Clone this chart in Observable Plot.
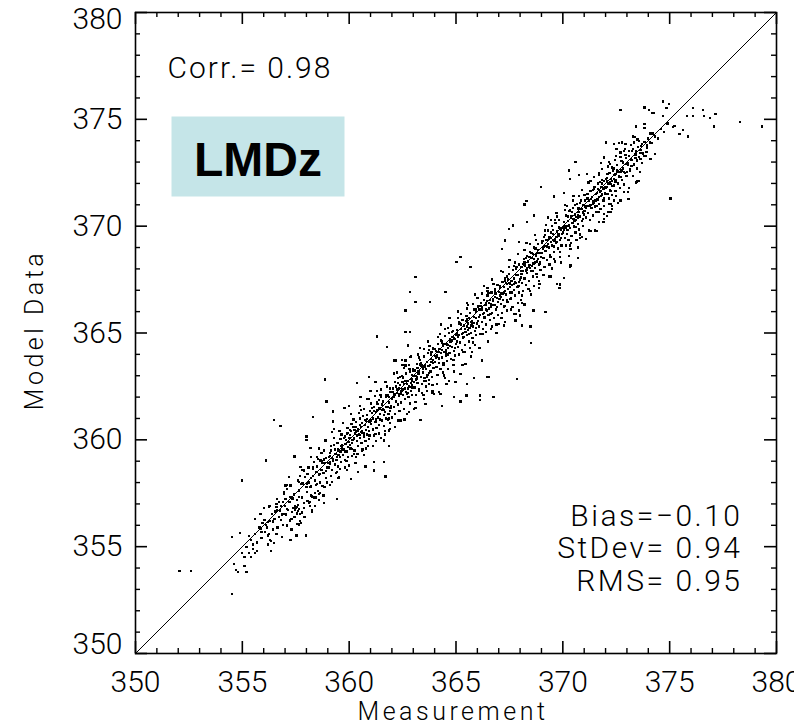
<!DOCTYPE html>
<html><head><meta charset="utf-8">
<script src="https://cdn.jsdelivr.net/npm/d3@7"></script>
<script src="https://cdn.jsdelivr.net/npm/@observablehq/plot@0.6"></script>
<style>
html,body{margin:0;padding:0;background:#fff;overflow:hidden;}
svg text{font-weight:300;}
</style></head><body><div id="chart"></div>
<script>
const band1 = [
[354.5,355.45],[354.9,355.65],[354.6,354.2],[354.7,353.9],[354.8,353.8],[355.0,354.7],[355.1,354.1],[355.2,353.8],[355.3,354.7],[355.4,354.5],[355.6,354.7],[355.1,354.5],
[355.2,355.0],[355.4,355.3],[355.5,355.1],[355.6,355.6],[355.7,355.2],[355.8,355.9],[355.9,355.4],[355.5,354.9],[355.7,354.8],[355.9,355.7],[355.3,355.5],
[355.85,356.53],[356.04,356.25],[356.24,356.88],[356.4,356.53],[356.6,357.0],[356.2,355.52],[356.35,355.26],[356.2,355.1],[356.47,355.16],[356.35,354.79],[355.88,355.83],[356.86,355.44],[357.25,355.32],[357.53,355.52],[357.98,355.52],
[356.76,356.69],[356.94,356.53],[357.1,356.77],[357.33,356.61],[357.57,356.85],[357.69,356.53],[357.44,356.38],[357.22,356.22],[357.1,355.99],[357.57,356.07],[357.75,356.1],[358.11,357.03],[358.27,356.61],[358.35,357.3],[358.03,357.55],[358.19,357.78],[358.5,357.94],[357.1,357.7],[357.25,357.86],[356.94,357.55],[357.41,357.47],[357.64,357.63],
[357.48,356.72],[357.52,356.8],[357.6,356.66],[357.46,356.9],[357.62,356.95],[357.55,356.55],[357.4,356.8],[357.66,356.78],
[356.5,356.3],[356.7,356.4],[356.8,356.9],[356.1,356.0],[355.95,356.1],[356.3,356.2],[356.9,357.1],[357.0,356.9],[357.2,357.1],[357.35,357.25],[357.8,357.3],[357.9,357.05],[358.0,357.8],[358.1,358.0],[357.85,357.95],[357.95,358.25],[358.2,358.2],[358.3,358.3],[358.4,358.1],[358.45,358.5],[358.6,358.35],[358.65,358.0],[358.7,358.6],[358.8,358.45],[358.85,358.9],[358.9,358.2],[358.95,358.7],[358.55,357.6],[358.75,357.85],[358.4,357.5],[358.6,357.2],[358.25,357.35],[358.15,356.9],[358.9,359.15],[358.7,359.0],[358.5,358.75],[358.3,358.7],[358.05,358.4],[357.75,357.95],[357.6,358.1],[358.35,358.95],[358.55,359.1],[358.95,358.0],
[357.02,357.86],[356.94,357.47],[357.25,357.31],[356.63,357.24],[357.64,358.02],[357.18,358.25],[357.88,358.56],[357.72,358.72],[358.31,358.64],[358.5,358.49],[358.27,356.69],[358.16,357.08],[357.95,356.38],[357.64,356.04],[358.81,357.03],[358.58,357.47],[358.0,360.15],[358.0,359.99],[358.19,359.61],[357.44,359.22],[358.89,359.97],[358.81,359.5],[358.66,359.03],
[356.6,356.85],[356.75,356.7],[356.55,356.65],[356.05,355.7],[356.15,355.9],[356.25,355.6],[356.45,355.8],[356.65,355.9],[356.85,356.5],[356.3,356.9],[356.7,357.1],[357.05,356.5],[357.15,356.7],[357.3,356.3],[357.7,356.2],[357.8,356.6],[357.9,356.8],[358.2,357.8],[358.45,357.3],[358.65,357.5],[358.85,357.8],[358.75,358.9],[358.1,358.7],[358.5,359.2],[358.7,359.4]
];
const band2 = [
[359.03,358.7],[359.07,359.2],[359.12,358.95],[359.16,359.5],[359.21,358.6],[359.24,359.1],[359.28,359.75],[359.33,358.85],[359.36,359.35],[359.41,359.05],[359.45,359.85],[359.49,358.75],[359.52,359.5],[359.56,359.2],[359.6,360.05],[359.63,358.95],[359.68,359.6],[359.71,359.3],[359.75,360.1],[359.79,359.05],[359.83,359.8],[359.87,359.45],[359.9,360.3],[359.94,359.2],[359.97,359.9],[359.15,358.3],[359.38,358.45],[359.58,358.65],[359.81,358.7],[359.3,360.1],[359.55,360.4],[359.92,360.55],[359.47,359.55],[359.66,359.75],[359.85,360.0],[359.1,359.25],[359.25,359.0],[359.5,359.3],[359.73,359.55],[359.96,359.65],
[360.02,360.1],[360.06,359.6],[360.09,360.4],[360.14,359.85],[360.17,360.6],[360.21,360.05],[360.25,359.5],[360.28,360.3],[360.32,360.85],[360.36,359.95],[360.4,360.5],[360.43,359.7],[360.47,360.25],[360.5,361.0],[360.54,360.6],[360.58,359.85],[360.61,360.4],[360.65,361.1],[360.69,360.15],[360.73,360.7],[360.76,359.95],[360.8,360.45],[360.84,361.15],[360.88,360.6],[360.92,360.05],[360.95,360.85],[360.98,361.35],[360.12,359.25],[360.39,359.35],[360.63,359.55],[360.87,359.7],[360.2,360.95],[360.45,361.25],[360.7,361.45],[360.04,360.45],[360.3,360.6],[360.56,360.35],[360.78,360.9],[360.93,360.4],[360.35,360.2],[360.6,360.8],[360.82,360.25],[360.16,360.0],[360.52,360.1],
[361.03,360.75],[361.06,361.25],[361.1,360.45],[361.13,361.0],[361.17,361.55],[361.2,360.85],[361.24,361.3],[361.28,360.55],[361.31,361.75],[361.35,361.05],[361.39,360.7],[361.42,361.5],[361.46,361.2],[361.49,362.0],[361.53,360.9],[361.57,361.4],[361.6,361.8],[361.64,360.65],[361.68,361.3],[361.71,361.0],[361.75,362.1],[361.79,361.55],[361.82,360.95],[361.86,361.75],[361.9,361.35],[361.93,362.25],[361.97,361.6],[361.15,360.2],[361.4,360.3],[361.66,360.4],[361.92,360.8],[361.22,362.05],[361.5,362.35],[361.78,362.5],[361.08,361.5],[361.33,361.4],[361.55,361.65],[361.73,361.55],[361.88,362.0],[361.44,360.95],[361.62,361.15],[361.26,360.95],[361.84,361.2],[361.99,361.05],
[362.02,361.9],[362.05,362.4],[362.09,361.55],[362.12,362.15],[362.16,362.7],[362.2,361.8],[362.23,362.35],[362.27,361.65],[362.3,362.9],[362.34,362.05],[362.38,362.55],[362.41,361.75],[362.45,362.3],[362.48,363.0],[362.52,362.1],[362.56,362.6],[362.6,361.9],[362.63,362.4],[362.67,363.1],[362.7,362.15],[362.74,362.75],[362.78,362.0],[362.81,362.5],[362.85,363.2],[362.89,362.3],[362.92,362.85],[362.96,362.45],[362.99,363.3],[362.14,361.2],[362.36,361.35],[362.58,361.45],[362.83,361.7],[362.25,363.15],[362.55,363.35],[362.8,363.5],[362.07,362.0],[362.32,362.4],[362.5,362.35],[362.69,362.6],[362.9,362.65],[362.43,362.2],[362.65,362.25],[362.18,362.5],[362.95,362.1],
[363.02,362.7],[363.06,363.25],[363.09,362.45],[363.13,363.0],[363.16,363.55],[363.2,362.65],[363.24,363.2],[363.27,362.35],[363.31,363.75],[363.35,362.95],[363.38,363.45],[363.42,362.6],[363.45,363.15],[363.49,363.9],[363.53,362.9],[363.56,363.4],[363.6,362.5],[363.63,363.65],[363.67,363.05],[363.7,364.05],[363.74,362.8],[363.78,363.5],[363.81,363.2],[363.85,364.1],[363.88,362.95],[363.92,363.6],[363.95,363.35],[363.99,364.25],[363.12,362.1],[363.4,362.2],[363.65,362.3],[363.9,362.55],[363.22,364.0],[363.5,364.25],[363.76,364.4],[363.04,363.0],[363.28,363.1],[363.47,363.3],[363.71,363.45],[363.94,363.75],[363.36,363.6],[363.58,362.75],[363.83,363.8],[363.19,362.85],
[359.23,361.32],[359.23,360.86],[360.37,362.65],[360.0,361.6],[359.78,361.5],[359.72,360.78],[362.48,363.74],[362.12,363.71],[362.64,363.48],[362.87,363.87],[363.26,362.31],[362.79,361.29],[362.4,360.9],[364.2,362.23],[363.88,362.18],[364.55,362.62],[364.43,363.01],[363.73,362.62],[363.49,362.77],[363.18,362.93],[362.95,362.54],[361.0,362.3],[360.92,362.93],[361.23,362.7],[360.53,361.99],[360.84,361.92],[361.86,360.44],[361.62,359.97],[361.23,360.28],[360.61,359.5],[360.22,359.34],[359.98,358.8],[359.09,358.88],[359.2,360.36],[362.17,363.71],[362.64,363.71]
];
const band3 = [
[364.02,363.65],[364.05,364.15],[364.09,363.4],[364.12,363.9],[364.16,364.5],[364.2,363.6],[364.23,364.25],[364.27,363.3],[364.3,364.65],[364.34,363.85],[364.38,364.4],[364.41,363.5],[364.45,364.1],[364.48,364.85],[364.52,363.95],[364.56,364.5],[364.59,363.7],[364.63,364.3],[364.67,365.0],[364.7,364.05],[364.74,364.6],[364.78,363.8],[364.81,364.35],[364.85,365.1],[364.89,364.15],[364.92,364.75],[364.96,363.95],[364.99,364.5],[364.14,363.05],[364.4,363.15],[364.64,363.3],[364.88,363.5],[364.24,364.95],[364.5,365.2],[364.77,365.35],[364.07,363.85],[364.31,364.05],[364.54,364.2],[364.72,364.4],[364.94,364.3],[364.36,364.55],[364.6,364.0],[364.83,364.8],[364.18,364.1],
[365.03,364.6],[365.06,365.15],[365.1,364.35],[365.13,364.9],[365.17,365.45],[365.2,364.55],[365.24,365.2],[365.27,364.2],[365.31,365.6],[365.35,364.8],[365.38,365.35],[365.42,364.45],[365.45,365.05],[365.49,365.8],[365.52,364.9],[365.56,365.45],[365.6,364.6],[365.63,365.25],[365.67,365.95],[365.7,365.0],[365.74,365.55],[365.77,364.75],[365.81,365.3],[365.85,366.1],[365.88,365.1],[365.92,365.7],[365.95,364.9],[365.99,365.45],[365.15,364.0],[365.4,364.1],[365.65,364.3],[365.9,364.45],[365.22,365.9],[365.5,366.15],[365.78,366.35],[365.08,364.8],[365.33,365.0],[365.55,365.15],[365.72,365.35],[365.94,365.25],[365.46,365.55],[365.61,364.95],[365.83,365.75],[365.28,364.95],
[366.02,365.55],[366.06,366.1],[366.09,365.3],[366.13,365.85],[366.16,366.4],[366.2,365.5],[366.23,366.15],[366.27,365.2],[366.31,366.55],[366.34,365.75],[366.38,366.3],[366.41,365.4],[366.45,366.05],[366.48,366.75],[366.52,365.85],[366.56,366.4],[366.59,365.6],[366.63,366.2],[366.66,366.9],[366.7,365.95],[366.73,366.5],[366.77,365.7],[366.8,366.3],[366.84,367.05],[366.88,366.1],[366.91,366.65],[366.95,365.85],[366.98,366.45],[366.14,364.95],[366.39,365.05],[366.64,365.2],[366.9,365.4],[366.21,366.85],[366.47,367.1],[366.75,367.3],[366.07,365.75],[366.3,365.95],[366.54,366.15],[366.71,366.3],[366.93,366.2],[366.44,366.5],[366.61,365.9],[366.82,366.7],[366.26,365.9],
[367.03,366.6],[367.06,367.1],[367.1,366.35],[367.13,366.85],[367.17,367.4],[367.2,366.55],[367.24,367.15],[367.27,366.25],[367.31,367.55],[367.34,366.8],[367.38,367.3],[367.41,366.45],[367.45,367.05],[367.48,367.75],[367.52,366.9],[367.56,367.45],[367.59,366.65],[367.63,367.25],[367.66,367.95],[367.7,367.0],[367.73,367.55],[367.77,366.75],[367.8,367.35],[367.84,368.1],[367.88,367.15],[367.91,367.7],[367.95,366.9],[367.98,367.5],[367.14,365.95],[367.39,366.05],[367.64,366.2],[367.9,366.4],[367.21,367.85],[367.47,368.1],[367.75,368.3],[367.07,366.75],[367.3,366.95],[367.54,367.15],[367.71,367.3],[367.93,367.2],[367.44,367.5],[367.61,366.9],[367.82,367.7],[367.26,366.9],
[368.03,367.6],[368.06,368.1],[368.1,367.35],[368.13,367.9],[368.17,368.45],[368.2,367.55],[368.24,368.15],[368.27,367.25],[368.31,368.6],[368.34,367.8],[368.38,368.35],[368.41,367.45],[368.45,368.05],[368.48,368.8],[368.52,367.9],[368.56,368.5],[368.59,367.65],[368.63,368.25],[368.66,369.0],[368.7,368.05],[368.73,368.6],[368.77,367.75],[368.8,368.35],[368.84,369.15],[368.88,368.2],[368.91,368.75],[368.95,367.95],[368.98,368.55],[368.14,366.95],[368.39,367.05],[368.64,367.2],[368.9,367.45],[368.21,368.9],[368.47,369.15],[368.75,369.35],[368.07,367.75],[368.3,367.95],[368.54,368.15],[368.71,368.3],[368.93,368.25],[368.44,368.55],[368.61,367.9],[368.82,368.75],[368.26,367.9],
[365.76,364.1],[366.22,363.71],[365.44,363.55],[365.21,363.09],[364.98,362.7],[364.66,362.77],[367.94,366.05],[367.78,365.58],[368.1,365.35],[367.24,365.35],[367.0,365.43],[368.87,367.3],[368.8,367.61],[368.17,366.36],[367.39,366.55],[368.64,370.5],[368.33,370.18],[367.94,369.25],[367.31,369.33],[367.16,368.94],[368.1,366.75],[368.2,366.33],[367.78,365.89],[367.98,365.82],[367.55,366.6],[367.24,366.21],[368.64,366.05],[368.48,365.3],[368.61,366.05],[368.49,365.3],[368.52,364.54]
];
const band4 = [
[369.02,368.75],[369.05,369.3],[369.09,368.5],[369.12,369.05],[369.16,369.6],[369.19,368.85],[369.23,369.35],[369.27,368.4],[369.3,369.8],[369.34,369.0],[369.37,369.5],[369.41,368.65],[369.44,369.25],[369.48,370.0],[369.51,369.1],[369.55,369.65],[369.58,368.8],[369.62,369.4],[369.66,370.15],[369.69,369.2],[369.73,369.75],[369.76,368.95],[369.8,369.55],[369.83,370.3],[369.87,369.35],[369.9,369.85],[369.94,369.1],[369.97,369.65],[369.14,368.1],[369.38,368.2],[369.63,368.35],[369.88,368.55],[369.2,370.05],[369.46,370.3],[369.72,370.45],[369.07,368.95],[369.29,369.15],[369.53,369.35],[369.7,369.5],[369.92,369.45],[369.43,369.7],[369.6,369.05],[369.81,369.9],[369.25,369.05],
[370.02,369.7],[370.06,370.2],[370.09,369.45],[370.13,370.0],[370.16,370.5],[370.2,369.65],[370.23,370.25],[370.27,369.35],[370.31,370.7],[370.34,369.9],[370.38,370.4],[370.41,369.55],[370.45,370.15],[370.48,370.85],[370.52,370.0],[370.56,370.55],[370.59,369.7],[370.63,370.3],[370.66,371.05],[370.7,370.1],[370.73,370.65],[370.77,369.85],[370.8,370.45],[370.84,371.2],[370.88,370.25],[370.91,370.8],[370.95,370.0],[370.98,370.55],[370.14,369.1],[370.39,369.2],[370.64,369.35],[370.9,369.5],[370.21,370.95],[370.47,371.2],[370.75,371.4],[370.07,369.85],[370.3,370.05],[370.54,370.25],[370.71,370.4],[370.93,370.35],[370.44,370.65],[370.61,369.95],[370.82,370.8],[370.26,370.0],
[371.02,370.7],[371.05,371.2],[371.09,370.4],[371.12,370.95],[371.16,371.5],[371.19,370.6],[371.23,371.2],[371.27,370.3],[371.3,371.65],[371.34,370.85],[371.37,371.35],[371.41,370.5],[371.44,371.1],[371.48,371.85],[371.51,370.95],[371.55,371.5],[371.58,370.65],[371.62,371.25],[371.66,372.0],[371.69,371.05],[371.73,371.6],[371.76,370.8],[371.8,371.4],[371.83,372.15],[371.87,371.2],[371.9,371.75],[371.94,370.95],[371.97,371.55],[371.2,372.05],[371.45,372.3],[371.7,372.4],[371.07,370.85],[371.29,371.0],[371.53,371.2],[371.7,371.35],[371.92,371.3],[371.4,371.7],[371.6,370.95],[371.81,371.85],[371.25,370.95],
[372.03,371.8],[372.07,372.25],[372.1,371.5],[372.14,372.0],[372.18,372.5],[372.22,371.7],[372.26,372.2],[372.3,371.45],[372.34,372.6],[372.38,371.9],[372.42,372.4],[372.46,371.65],[372.5,372.15],[372.54,372.85],[372.58,372.0],[372.62,372.55],[372.66,371.8],[372.7,372.3],[372.74,373.05],[372.78,372.15],[372.82,372.7],[372.86,371.95],[372.9,372.5],[372.94,373.2],[372.98,372.35],[372.2,372.9],[372.45,373.1],[372.7,373.25],[372.15,371.3],[372.5,371.4],[372.85,371.6],
[373.05,372.85],[373.1,373.3],[373.16,372.6],[373.22,373.1],[373.28,373.6],[373.34,372.85],[373.4,373.35],[373.46,372.7],[373.52,373.7],[373.58,373.25],[373.64,373.55],[373.7,372.95],[373.76,373.4],[373.82,373.95],[373.88,373.3],[373.94,373.65],[373.98,374.1],[373.3,372.35],[373.6,372.55],[373.2,373.8],[373.5,374.05],
[374.15,373.9],[374.3,374.2],[374.45,374.1],[374.6,374.55],[374.75,374.4],[374.9,374.8],
[370.7,368.52],[370.33,368.11],[370.04,367.58],[369.86,367.27],[369.86,367.11],[369.19,365.97],[369.34,367.64],[369.5,368.05],[369.58,368.45],[371.29,369.79],[371.6,369.76],[370.82,369.61],[370.36,368.94],[372.23,371.04],[371.92,370.57],[371.68,370.65],[372.38,371.2],[372.46,372.06],[372.1,372.76],[371.79,372.95],[369.58,371.39],[370.04,371.54],[370.33,372.21],[370.28,372.6],[370.75,372.41],[371.14,372.45],[370.36,368.16],[370.05,367.58],[369.42,367.64],[369.73,367.3],[369.81,367.11],
[372.38,373.85],[372.62,373.88],[372.77,373.92],[372.93,373.85],[372.51,373.61],[372.85,373.53],[373.09,373.53],[373.24,373.53],[372.7,373.45],[373.32,373.92],[373.55,374.0],[373.71,373.85],[373.94,373.77],[374.07,373.92],[372.01,373.92],
[371.92,373.22],[372.15,372.99],[371.84,372.68],[372.31,372.75],[372.54,372.6],[372.07,372.44],[372.38,372.21],[372.7,372.29],[372.85,372.52],[372.07,371.82],[372.23,371.66],[372.0,371.5],[371.92,371.19],[372.15,371.04],[372.31,370.96],[372.23,370.65],[372.07,370.49],[371.92,370.34],
[372.46,372.13],[373.01,372.52],[373.16,372.68],[373.32,372.91],[373.48,373.07],[373.79,373.3],[373.94,373.46],[371.76,371.66],[371.99,371.82],[372.23,371.97],
[374.3,373.38],[374.1,373.14],[373.9,373.46],[373.63,373.14],[373.44,372.05],[373.55,372.13],[373.09,371.27]
];
const spread = [
[355.6,356.3],[356.0,356.8],[356.3,355.3],[356.6,355.6],[356.9,356.0],[357.1,357.9],[357.3,355.8],[357.7,358.3],[357.9,356.4],[358.2,359.2],[358.4,356.9],[358.6,359.6],[358.8,357.4],[358.2,357.4],[357.8,358.6],[358.9,358.55],[358.45,357.9],[358.05,357.15],[357.55,357.2],[356.8,356.25],
[359.1,357.9],[359.3,360.5],[359.5,358.2],[359.7,360.8],[359.9,358.6],[360.1,361.2],[360.3,358.9],[360.5,361.6],[360.7,359.3],[360.9,361.9],[361.1,359.7],[361.3,362.3],[361.5,360.1],[361.7,362.7],[361.9,360.5],[362.1,363.1],[362.3,360.9],[362.5,363.5],[362.7,361.2],[362.9,363.9],[363.1,361.5],[363.3,364.3],[363.5,361.9],[363.7,364.6],[363.9,362.3],
[359.15,359.7],[359.42,358.5],[359.64,360.25],[359.88,359.0],[360.11,360.75],[360.33,359.2],[360.57,361.4],[360.79,359.6],[361.01,361.7],[361.24,359.95],[361.47,362.1],[361.69,360.25],[361.91,362.4],[362.13,360.6],[362.37,362.95],[362.59,360.95],[362.82,363.3],[363.04,361.45],[363.26,363.85],[363.48,362.1],[363.72,364.2],[363.93,362.25],
[359.35,359.55],[359.8,360.15],[360.25,360.45],[360.7,360.3],[361.15,361.35],[361.6,361.45],[362.05,362.25],[362.5,362.7],[362.95,362.75],[363.4,363.5],[363.85,363.65],
[359.6,359.45],[360.05,359.75],[360.5,360.7],[360.95,360.2],[361.4,361.85],[361.85,361.0],[362.3,362.65],[362.75,362.4],[363.2,363.35],[363.65,362.95],
[364.1,362.6],[364.3,365.4],[364.5,362.9],[364.7,365.7],[364.9,363.2],[365.1,366.0],[365.3,363.5],[365.5,366.4],[365.7,363.9],[365.9,366.8],[366.1,364.3],[366.3,367.2],[366.5,364.6],[366.7,367.5],[366.9,365.0],[367.1,367.9],[367.3,365.5],[367.5,368.4],[367.7,365.9],[367.9,368.7],[368.1,366.4],[368.3,369.2],[368.5,366.8],[368.7,369.6],[368.9,367.1],
[364.15,364.8],[364.42,363.6],[364.64,365.25],[364.88,363.75],[365.11,365.7],[365.34,364.1],[365.57,366.3],[365.79,364.55],[366.01,366.65],[366.24,364.95],[366.47,366.95],[366.69,365.3],[366.91,367.25],[367.13,365.7],[367.37,367.65],[367.59,366.1],[367.82,368.0],[368.04,366.55],[368.26,368.5],[368.48,366.95],[368.72,368.95],[368.93,367.3],
[364.35,364.2],[364.8,364.65],[365.25,365.4],[365.7,365.5],[366.15,366.25],[366.6,366.55],[367.05,367.2],[367.5,367.35],[367.95,368.2],[368.4,368.1],[368.85,368.9],
[364.6,364.45],[365.05,365.0],[365.5,365.3],[365.95,366.0],[366.4,366.1],[366.85,366.85],[367.3,367.45],[367.75,367.4],[368.2,368.3],[368.65,368.45],
[369.1,367.7],[369.3,370.4],[369.5,368.0],[369.7,370.6],[369.9,368.3],[370.1,371.0],[370.3,368.6],[370.5,371.4],[370.7,369.0],[370.9,371.7],[371.1,369.4],[371.3,372.1],[371.5,369.8],[371.7,372.5],[371.9,370.2],[372.1,372.8],[372.3,370.8],[372.5,373.3],[372.7,371.2],[372.9,373.6],[373.1,371.8],[373.3,374.2],
[369.15,369.8],[369.42,368.55],[369.64,370.3],[369.88,368.8],[370.11,370.75],[370.34,369.1],[370.57,371.0],[370.79,369.45],[371.01,371.45],[371.24,369.8],[371.47,371.75],[371.69,370.2],[371.91,372.1],[372.13,370.65],[372.37,372.7],[372.59,371.1],[372.82,373.0],[373.04,371.6],
[369.35,369.4],[369.8,369.65],[370.25,370.45],[370.7,370.5],[371.15,371.3],[371.6,371.55],[372.05,372.1],[372.5,372.45],[372.95,372.9],[373.4,373.2],
[369.6,369.3],[370.05,370.0],[370.5,370.35],[370.95,371.0],[371.4,371.05],[371.85,372.0],[372.3,372.1],[372.75,372.6],[373.2,373.15],[373.65,373.75]
];
const coreA = [
[356.2,356.15],[356.43,356.18],[356.61,356.71],[356.84,356.49],[357.02,357.22],[357.23,357.08],[357.41,357.41],[357.64,357.34],[357.82,357.97],[358.03,357.93],[358.22,357.82],[358.44,358.49],[358.61,358.41],[358.83,359.08],[359.02,358.9],
[359.21,359.16],[359.44,359.19],[359.62,359.72],[359.81,359.46],[360.03,360.23],[360.22,360.07],[360.41,360.41],[360.63,360.33],[360.82,360.97],[361.01,360.91],[361.24,360.84],[361.42,361.47],[361.61,361.41],[361.83,362.08],[362.02,361.9],
[362.23,362.18],[362.41,362.16],[362.64,362.74],[362.82,362.47],[363.01,363.21],[363.22,363.07],[363.43,363.43],[363.61,363.31],[363.84,363.99],[364.03,363.93],[364.21,363.81],[364.42,364.47],[364.63,364.43],[364.81,365.06],[365.02,364.9],
[365.24,365.19],[365.43,365.18],[365.61,365.71],[365.82,365.47],[366.04,366.24],[366.22,366.07],[366.41,366.41],[366.63,366.33],[366.84,366.99],[367.02,366.92],[367.21,366.81],[367.43,367.48],[367.62,367.42],[367.81,368.06],[368.03,367.91],
[368.22,368.17],[368.44,368.19],[368.61,368.71],[368.83,368.48],[369.02,369.22],[369.21,369.06],[369.44,369.44],[369.62,369.32],[369.81,369.96],[370.03,369.93],[370.22,369.82],[370.41,370.46],[370.63,370.43],[370.82,371.07],[371.04,370.92],
[371.23,371.18],[371.41,371.16],[371.64,371.74],[371.83,371.48],[372.02,372.22],[372.21,372.06],[372.43,372.43],[372.62,372.32],[372.81,372.96],[373.03,372.93],[373.22,372.82],[373.44,373.49],[373.63,373.43]
];
const coreB = [
[359.1,359.4],[359.32,358.87],[359.53,359.53],[359.71,359.51],[359.92,360.32],[360.13,359.58],[360.31,360.41],[360.52,360.22],[360.74,360.94],[360.93,360.88],[361.12,360.52],[361.33,361.68],[361.54,361.39],
[361.72,362.02],[361.93,361.48],[362.12,362.12],[362.33,362.13],[362.52,362.92],[362.73,362.18],[362.94,363.04],[363.12,362.82],[363.33,363.53],[363.54,363.49],[363.72,363.12],[363.93,364.28],[364.12,363.97],
[364.33,364.63],[364.54,364.09],[364.72,364.72],[364.93,364.73],[365.13,365.53],[365.32,364.77],[365.53,365.63],[365.74,365.44],[365.93,366.13],[366.12,366.07],[366.33,365.73],[366.52,366.87],[366.73,366.58],
[366.94,367.24],[367.12,366.67],[367.33,367.33],[367.52,367.32],[367.73,368.13],[367.94,367.39],[368.13,368.23],[368.32,368.02],[368.53,368.73],[368.74,368.69],[368.92,368.32],[369.13,369.48],[369.32,369.17],
[369.53,369.83],[369.72,369.27],[369.93,369.93],[370.12,369.92],[370.33,370.73],[370.52,369.97],[370.73,370.83],[370.94,370.64],[371.12,371.32],[371.33,371.28],[371.52,370.92],[371.73,372.08],[371.94,371.79],
[372.13,372.43],[372.32,371.87],[372.53,372.53],[372.72,372.52],[372.93,373.33]
];
const outliers = [
[352.06,353.85],[352.6,353.85],[354.5,352.8],[355.0,358.1],[356.12,359.03],[356.47,360.93],[356.78,360.65],[358.3,361.06],[358.86,362.82],[358.94,361.79],[361.3,364.83],[361.78,364.33],
[363.1,367.61],[362.84,366.91],[363.1,366.44],[362.64,366.05],[363.77,366.44],[364.51,366.91],[365.21,368.55],[365.68,368.08],[365.02,368.31],[362.64,365.04],[362.84,365.04],[362.74,364.41],
[368.98,371.85],[370.59,372.99],[368.3,371.17],[368.2,371.01],[367.67,370.03],[367.47,369.87],
[373.48,372.06],[373.05,371.28],[375.04,371.28],[373.48,372.13],
[372.7,375.44],[373.82,375.56],[374.02,375.44],[374.18,375.3],[374.26,375.3],[374.68,375.83],[374.96,375.72],[374.85,375.53],[374.69,375.17],[375.82,375.17],[376.1,375.17],[376.1,375.53],[376.56,375.44],[376.6,375.17],[376.88,375.05],[377.14,375.25],[377.06,374.67],[378.28,374.86],[379.33,374.67],[375.16,374.63],[375.22,374.7],[375.46,374.31],[375.63,374.5],[375.85,374.2],[375.04,371.3],[373.44,374.67],[373.82,374.78],[373.82,374.6],[374.1,374.34],[374.2,374.34],[373.35,374.19],
[367.86,362.85],[366.53,362.93],[366.72,361.99],[366.14,362.07],[366.14,361.88],[365.49,362.07],[365.21,361.79],[364.9,362.0],[364.35,361.6],[363.34,360.93],[363.96,362.15],[364.27,362.15],[365.83,362.9],[365.52,362.62],[366.46,362.93],[366.75,362.0],
[361.7,358.28],[361.86,359.7],[361.62,358.95],[361.15,358.95],[361.15,358.56],[360.76,358.75],[360.4,358.49],[360.09,358.17],[359.52,358.25],[359.2,358.02],[359.44,357.24],[363.31,360.93],[363.57,361.68],[363.1,361.76],[364.35,361.6]
];
const majorTicks = [350,355,360,365,370,375,380];
const innerTicks = [355,360,365,370,375];
const minorTicks = [351,352,353,354,356,357,358,359,361,362,363,364,366,367,368,369,371,372,373,374,376,377,378,379];
const diagonal = [350,380];
const corrLabel = "Corr.= 0.98";
const statLines = ["Bias=\u22120.10","StDev= 0.94","RMS= 0.95"];
const modelName = "LMDz";
const xTitle = "Measurement";
const yTitle = "Model Data";

const points = [...band1,...band2,...band3,...band4,...spread,...coreA,...coreB,...outliers].map(([x,y])=>({x,y}));
const W=794,H=724,mL=135,mR=18,mT=12,mB=71;
const pw=W-mL-mR, ph=H-mT-mB;
const thin="Roboto, 'DejaVu Sans', sans-serif";
const majL=12, minL=5;
const tickSet=(vals,len,sw)=>[
  Plot.tickX(vals,{x:d=>d,insetTop:ph-len,stroke:"#000",strokeWidth:sw}),
  Plot.tickX(vals,{x:d=>d,insetBottom:ph-len,stroke:"#000",strokeWidth:sw}),
  Plot.tickY(vals,{y:d=>d,insetRight:pw-len,stroke:"#000",strokeWidth:sw}),
  Plot.tickY(vals,{y:d=>d,insetLeft:pw-len,stroke:"#000",strokeWidth:sw})
];
const yLab=(vals,dy)=>Plot.text(vals,{y:d=>d,text:d=>String(d),frameAnchor:"left",dx:-13,dy,textAnchor:"end",lineAnchor:"middle",fontSize:30,fill:"#000"});
const chart = Plot.plot({
  width:W,height:H,marginLeft:mL,marginRight:mR,marginTop:mT,marginBottom:mB,
  style:{fontFamily:thin,color:"#000",background:"#fff",overflow:"hidden"},
  x:{domain:[350,380],label:null,axis:null},
  y:{domain:[350,380],label:null,axis:null},
  marks:[
    Plot.frame({fill:"#c5e5e8",stroke:null,insetLeft:36,insetTop:104,insetRight:432,insetBottom:457}),
    Plot.line(diagonal.map(v=>({x:v,y:v})),{x:"x",y:"y",stroke:"#000",strokeWidth:1}),
    Plot.dot(points,{x:"x",y:"y",symbol:"square",r:1.28,fill:"#000",stroke:null,shapeRendering:"crispEdges"}),
    ...tickSet(majorTicks,majL,1.6),
    ...tickSet(minorTicks,minL,1.4),
    Plot.text(majorTicks,{x:d=>d,text:d=>String(d),frameAnchor:"bottom",dy:17,lineAnchor:"top",textAnchor:"middle",fontSize:30,fill:"#000"}),
    yLab(innerTicks,0),
    yLab([380],7),
    yLab([350],-9),
    Plot.frame({stroke:"#000",strokeWidth:1.6}),
    Plot.text([corrLabel],{text:d=>d,frameAnchor:"top-left",dx:32,dy:65,textAnchor:"start",lineAnchor:"bottom",fontSize:30,fill:"#000"}),
    Plot.text([statLines.join("\n")],{text:d=>d,frameAnchor:"bottom-right",dx:-34,dy:-63,textAnchor:"end",lineAnchor:"bottom",lineHeight:1.083,fontSize:30,fill:"#000"}),
    Plot.text([modelName],{text:d=>d,frameAnchor:"top-left",dx:122.5,dy:148,textAnchor:"middle",lineAnchor:"middle",fontSize:48,fontFamily:"'Liberation Sans', Arial, sans-serif",fill:"#000"}),
    Plot.text([xTitle],{text:d=>d,frameAnchor:"bottom",dx:-3,dy:66,textAnchor:"middle",lineAnchor:"bottom",fontSize:25,fill:"#000"}),
    Plot.text([yTitle],{text:d=>d,frameAnchor:"left",dx:-93,dy:-3,rotate:-90,textAnchor:"middle",lineAnchor:"bottom",fontSize:25,fill:"#000"})
  ]
});
const spacing = new Map([[corrLabel,"2px"],[xTitle,"3.5px"],[yTitle,"3.5px"]]);
d3.select(chart).selectAll("text").each(function(){
  const t=this.textContent;
  if (t===modelName) this.style.fontWeight="bold";
  else if (spacing.has(t)) this.style.letterSpacing=spacing.get(t);
  else if (t.startsWith("Bias")) this.style.letterSpacing="2.5px";
});
document.getElementById("chart").appendChild(chart);
</script></body></html>
